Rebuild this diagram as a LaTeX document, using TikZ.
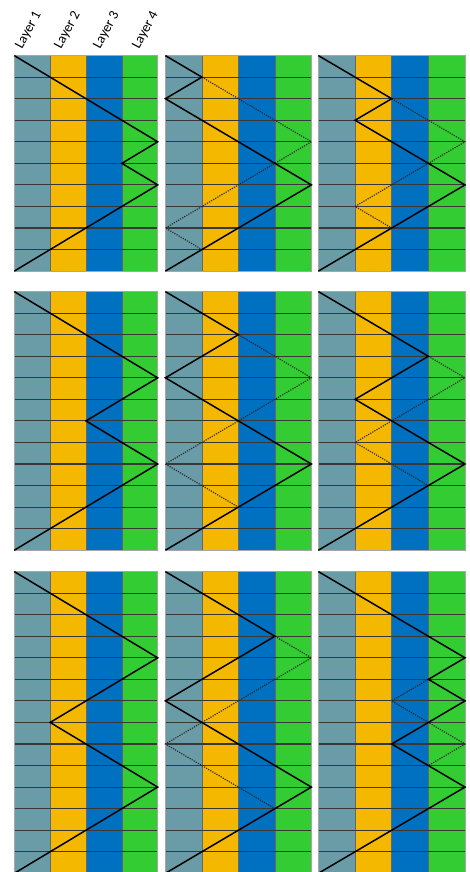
\documentclass[tikz,border=0pt]{standalone}
\usepackage{fontspec}
\setmainfont{Carlito}
\definecolor{layA}{HTML}{6A9CA7}
\definecolor{layB}{HTML}{F5B800}
\definecolor{layC}{HTML}{0070C0}
\definecolor{layD}{HTML}{33CC33}
\tikzset{
  rowline/.style={draw=black!78, line width=1.1pt},
  colline/.style={draw=black!60, line width=0.6pt},
  frameline/.style={draw=black!35, line width=0.8pt},
  zig/.style={draw=black, line width=1.5pt},
  zigdot/.style={draw=black!85, line width=1.1pt, dash pattern=on 1.2pt off 1.2pt},
  lbl/.style={font=\fontsize{14}{14}\selectfont, rotate=62, anchor=base west, inner sep=0pt}
}
% #1 left, #2 top, #3 column width, #4 rows, #5 solid path, #6 dotted path
\newcommand{\layerpanel}[6]{%
  \begin{scope}[shift={(#1,#2)}, x=#3pt, y=-21.55pt]
    \fill[layA] (0,0) rectangle (1,#4);
    \fill[layB] (1,0) rectangle (2,#4);
    \fill[layC] (2,0) rectangle (3,#4);
    \fill[layD] (3,0) rectangle (4,#4);
    \foreach \c in {1,2,3} \draw[colline] (\c,0) -- (\c,#4);
    \pgfmathtruncatemacro\lastrow{#4-1}
    \foreach \r in {1,...,\lastrow} \draw[rowline] (0,\r) -- (4,\r);
    \draw[frameline] (0,0) rectangle (4,#4);
    \draw[zigdot] #6;
    \draw[zig] #5;
  \end{scope}}
\begin{document}
\begin{tikzpicture}[x=1pt,y=-1pt]
  \useasboundingbox (0,0) rectangle (470,872);
  \fill[white] (0,0) rectangle (470,872);
  \node[lbl] (l1) at (22,50) {Layer 1};
  \node[lbl] (l2) at (61,50) {Layer 2};
  \node[lbl] (l3) at (100,50) {Layer 3};
  \node[lbl] (l4) at (139,50) {Layer 4};
  % top row
  \layerpanel{14.3}{55.6}{35.85}{10}{(0,0)--(4,4)--(3,5)--(4,6)--(0,10)}{(0,0)}
  \layerpanel{165.4}{55.6}{36.5}{10}{(0,0)--(1,1)--(0,2)--(4,6)--(0,10)}{(1,1)--(4,4)--(0,8)--(1,9)}
  \layerpanel{318.4}{55.6}{36.65}{10}{(0,0)--(2,2)--(1,3)--(4,6)--(0,10)}{(2,2)--(4,4)--(1,7)--(2,8)}
  % middle row
  \layerpanel{14.3}{291.6}{35.85}{12}{(0,0)--(4,4)--(2,6)--(4,8)--(0,12)}{(0,0)}
  \layerpanel{165.4}{291.6}{36.5}{12}{(0,0)--(2,2)--(0,4)--(4,8)--(0,12)}{(2,2)--(4,4)--(0,8)--(2,10)}
  \layerpanel{318.4}{291.6}{36.65}{12}{(0,0)--(3,3)--(1,5)--(4,8)--(0,12)}{(3,3)--(4,4)--(1,7)--(3,9)}
  % bottom row
  \layerpanel{14.3}{571.6}{35.85}{14}{(0,0)--(4,4)--(1,7)--(4,10)--(0,14)}{(0,0)}
  \layerpanel{165.4}{571.6}{36.5}{14}{(0,0)--(3,3)--(0,6)--(4,10)--(0,14)}{(3,3)--(4,4)--(0,8)--(3,11)}
  \layerpanel{318.4}{571.6}{36.65}{14}{(0,0)--(4,4)--(3,5)--(4,6)--(2,8)--(4,10)--(0,14)}{(3,5)--(2,6)--(4,8)--(3,9)}
\end{tikzpicture}
\end{document}
